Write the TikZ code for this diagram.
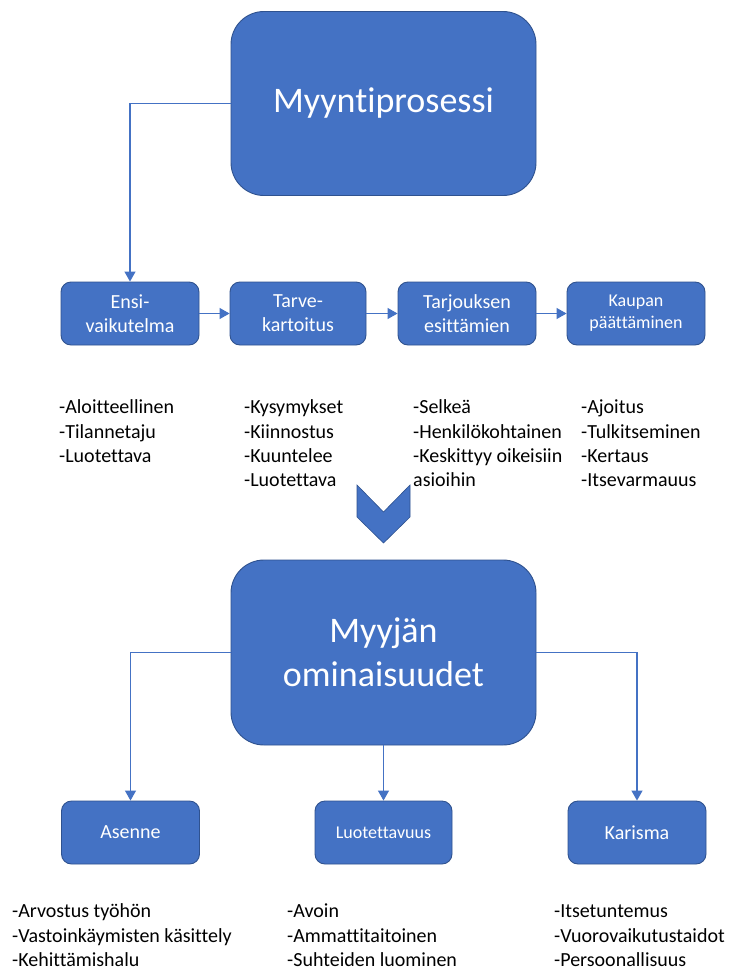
\documentclass[tikz,border=0pt]{standalone}
\usepackage{fontspec}
\setmainfont{Carlito}[Ligatures=NoCommon]
\usetikzlibrary{arrows.meta}
\definecolor{boxblue}{HTML}{4472C4}
\definecolor{boxedge}{HTML}{2F528F}
\tikzset{
  bigbox/.style={draw=boxedge, fill=boxblue, line width=0.9pt, rounded corners=33pt,
    minimum width=305pt, minimum height=184pt, text=white, align=center, inner sep=0pt,
    font=\fontsize{36}{44}\selectfont},
  smallbox/.style={draw=boxedge, fill=boxblue, line width=0.9pt, rounded corners=10pt,
    minimum width=138pt, minimum height=63pt, text=white, align=center, inner sep=0pt,
    font=\fontsize{20}{24}\selectfont},
  conn/.style={draw=boxblue, line width=1.2pt, -{Triangle[width=11pt,length=10pt]}},
  listtext/.style={anchor=north west, inner sep=0pt, align=left, text=black,
    font=\fontsize{20}{24.4}\selectfont}
}
\begin{document}
\begin{tikzpicture}[x=1pt,y=-1pt]
\useasboundingbox (0,0) rectangle (735,969);
\fill[white] (0,0) rectangle (735,969);

% top part
\node[bigbox] (top) at (383.5,103.5) {Myyntiprosessi};
\node[smallbox] (ensi) at (130,313.5) {Ensi-\\vaikutelma};
\node[smallbox, minimum width=136pt] (tarve) at (298,313.5) {Tarve-\\kartoitus};
\node[smallbox] (tarj) at (467,313.5) {Tarjouksen\\esittämien};
\node[smallbox, font=\fontsize{18}{22}\selectfont] (kaup) at (636,313.5) {Kaupan\\päättäminen};

\draw[conn] (top.west) -| (ensi.north);
\draw[conn] (ensi) -- (tarve);
\draw[conn] (tarve) -- (tarj);
\draw[conn] (tarj) -- (kaup);

\node[listtext] (l1) at (59,396.5) {\strut-Aloitteellinen\\-Tilannetaju\\-Luotettava};
\node[listtext] (l2) at (244,396.5) {\strut-Kysymykset\\-Kiinnostus\\-Kuuntelee\\-Luotettava};
\node[listtext] (l3) at (413,396.5) {\strut-Selkeä\\-Henkilökohtainen\\-Keskittyy oikeisiin\\asioihin};
\node[listtext] (l4) at (581,396.5) {\strut-Ajoitus\\-Tulkitseminen\\-Kertaus\\-Itsevarmauus};

% chevron
\fill[boxblue, draw=boxedge, line width=0.6pt] (357,485) -- (383.5,512) -- (410,485) -- (410,517) -- (383.5,543) -- (357,517) -- cycle;

% bottom part
\node[bigbox, minimum height=185pt] (mo) at (383.5,652.5) {Myyjän\\ominaisuudet};
\node[smallbox] (asenne) at (130.5,832.5) {Asenne};
\node[smallbox, minimum width=137pt, font=\fontsize{18}{22}\selectfont] (luot) at (383.5,832.5) {Luotettavuus};
\node[smallbox] (karisma) at (637,832.5) {Karisma};

\draw[conn] (mo.west) -| (asenne.north);
\draw[conn] (mo.south) -- (luot.north);
\draw[conn] (mo.east) -| (karisma.north);

\node[listtext] (b1) at (12,900.5) {\strut-Arvostus työhön\\-Vastoinkäymisten käsittely\\-Kehittämishalu};
\node[listtext] (b2) at (287,900.5) {\strut-Avoin\\-Ammattitaitoinen\\-Suhteiden luominen};
\node[listtext] (b3) at (554,900.5) {\strut-Itsetuntemus\\-Vuorovaikutustaidot\\-Persoonallisuus};
\end{tikzpicture}
\end{document}
